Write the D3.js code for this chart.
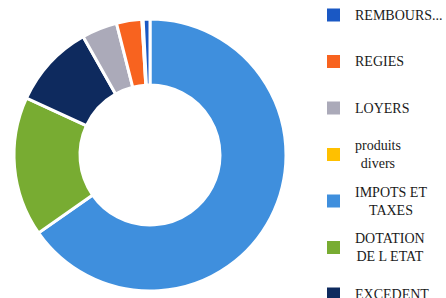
<!DOCTYPE html>
<html>
<head>
<meta charset="utf-8">
<script src="https://cdn.jsdelivr.net/npm/d3@7"></script>
<style>
  body { margin: 0; background: #fff; }
  svg text { font-family: "Liberation Serif", serif; fill: #1a1a1a; }
</style>
</head>
<body>
<div id="chart"></div>
<script>
// slices, clockwise from 12 o'clock
var labels = ["IMPOTS ET TAXES", "DOTATION DE L ETAT", "EXCEDENT", "LOYERS", "REGIES", "produits divers", "REMBOURS..."];
var values = [65, 16.5, 9.9, 4.2, 3.0, 0.15, 0.8];
var colors = ["#3f8fdd", "#78ac32", "#0e2a5e", "#abaab9", "#f8631f", "#ffc000", "#1a58c4"];

// legend, top to bottom
var legendItems = [
  { key: "REMBOURS...", lines: ["REMBOURS..."] },
  { key: "REGIES", lines: ["REGIES"] },
  { key: "LOYERS", lines: ["LOYERS"] },
  { key: "produits divers", lines: ["produits", "divers"] },
  { key: "IMPOTS ET TAXES", lines: ["IMPOTS ET", "TAXES"] },
  { key: "DOTATION DE L ETAT", lines: ["DOTATION", "DE L ETAT"] },
  { key: "EXCEDENT", lines: ["EXCEDENT"] }
];

var svg_width = 446, svg_height = 298;
var cx = 150, cy = 155, outer_r = 136, inner_r = 70;

var svg = d3.select("#chart").append("svg")
  .attr("width", svg_width)
  .attr("height", svg_height);

var data = labels.map(function(l, i) { return { label: l, value: values[i], color: colors[i] }; });

var pie = d3.pie()
  .sort(null)
  .value(function(d) { return d.value; });

var arc = d3.arc()
  .innerRadius(inner_r)
  .outerRadius(outer_r);

var g = svg.append("g").attr("transform", "translate(" + cx + "," + cy + ")");

g.selectAll("path")
  .data(pie(data))
  .enter()
  .append("path")
  .attr("d", arc)
  .attr("fill", function(d) { return d.data.color; })
  .attr("stroke", "#fff")
  .attr("stroke-width", 3);

// legend
var colorOf = {};
data.forEach(function(d) { colorOf[d.label] = d.color; });

var legend_y0 = 15, legend_step = 46.5;
var sq = 13, sq_x = 327, text_x = 355, line_h = 18;

var items = svg.selectAll("g.legend")
  .data(legendItems)
  .enter()
  .append("g")
  .attr("class", "legend")
  .attr("transform", function(d, i) { return "translate(0," + (legend_y0 + i * legend_step) + ")"; });

items.append("rect")
  .attr("x", sq_x)
  .attr("y", -sq / 2)
  .attr("width", sq)
  .attr("height", sq)
  .attr("fill", function(d) { return colorOf[d.key]; });

items.each(function(d) {
  var it = d3.select(this);
  var n = d.lines.length;
  var texts = d.lines.map(function(line, k) {
    return it.append("text")
      .attr("y", (k - (n - 1) / 2) * line_h)
      .attr("dy", "0.35em")
      .style("font-size", "14px")
      .text(line);
  });
  var widths = texts.map(function(t) { return t.node().getComputedTextLength(); });
  var maxw = d3.max(widths);
  texts.forEach(function(t, k) {
    t.attr("x", n > 1 ? text_x + (maxw - widths[k]) / 2 : text_x);
  });
});
</script>
</body>
</html>
